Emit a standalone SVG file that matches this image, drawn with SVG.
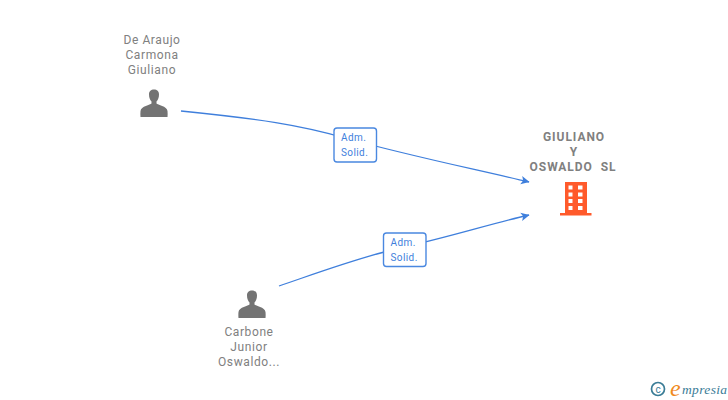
<svg xmlns="http://www.w3.org/2000/svg" width="728" height="400" viewBox="0 0 728 400">
<style>
text{font-family:Roboto,"Liberation Sans",Arial,sans-serif}
.n{font-size:12px;fill:#808080;text-anchor:middle;letter-spacing:.6px}
.b{font-size:12px;font-weight:bold;fill:#808080;text-anchor:middle;letter-spacing:.95px}
.l{font-size:10px;fill:#3f7fdc;letter-spacing:.4px}
.c{fill:none;stroke:#3f7fdc;stroke-width:1.3}
.box{fill:#fff;stroke:#4a88e0;stroke-width:1.4}
.p{fill:#737373}
</style>
<defs>
<marker id="a" markerWidth="10" markerHeight="10" refX="8" refY="5" orient="auto" markerUnits="userSpaceOnUse"><path d="M0,0.8L8.5,5L0,9.2L2,5Z" fill="#3f7fdc"/></marker>
<path id="u" d="M-5,-13.5C-5,-17 -3,-18.5 0,-18.5C3,-18.5 5,-17 5,-13.5C5,-10.500 4,-8 2.500,-6.500L2.500,-4.500C3.500,-3 13,-2 13.500,3C13.700,5 13.700,7 13.500,9L-13.500,9C-13.700,7 -13.700,5 -13.500,3C-13,-2 -3.500,-3 -2.500,-4.500L-2.500,-6.500C-4,-8 -5,-10.500 -5,-13.500Z"/>
</defs>
<g id="connectors">
<path class="c" d="M181,111C260,119 300,125 345,138C410,156 470,168 529,182" marker-end="url(#a)"/>
<path class="c" d="M279,286C320,272 360,257 400,248C450,237 490,224 529,215" marker-end="url(#a)"/>
</g>
<g id="edge-label-1"><rect class="box" x="334" y="128" width="42.500" height="34" rx="3"/><text class="l" x="341" y="141">Adm.</text><text class="l" x="341" y="156">Solid.</text></g>
<g id="edge-label-2"><rect class="box" x="383.500" y="233" width="42.500" height="33.500" rx="3"/><text class="l" x="390.500" y="246">Adm.</text><text class="l" x="390.500" y="261">Solid.</text></g>
<g id="node-dearaujo"><text class="n" x="152" y="44">De Araujo</text><text class="n" x="152" y="59">Carmona</text><text class="n" x="152" y="74">Giuliano</text><use href="#u" class="p" x="154" y="108"/></g>
<g id="node-carbone"><text class="n" x="249" y="336">Carbone</text><text class="n" x="249" y="351">Junior</text><text class="n" x="249" y="366">Oswaldo...</text><use href="#u" class="p" x="252" y="309"/></g>
<g id="node-giuliano"><text class="b" x="574" y="141">GIULIANO</text><text class="b" x="574" y="156">Y</text><text class="b" x="573" y="171" xml:space="preserve">OSWALDO  SL</text>
<path fill="#ff5a2b" fill-rule="evenodd" d="M565,182H587V213H591.500V215.500H560V213H565ZM568.500,185.500V189.500H572.500V185.500ZM578,185.500V189.500H582.500V185.500ZM568.500,192.500V196.500H572.500V192.500ZM578,192.500V196.500H582.500V192.500ZM568.500,199V203H572.500V199ZM578,199V203H582.500V199ZM568.500,206V210H572.500V206ZM578,206V210H582.500V206Z"/></g>
<g id="logo"><circle cx="658" cy="389" r="6.500" fill="none" stroke="#3a7c96" stroke-width="1.700"/><text x="658" y="392.500" font-size="10" fill="#3a7c96" text-anchor="middle">c</text>
<text x="670" y="396" font-size="24" font-style="italic" fill="#f08a1d" style="font-family:'Liberation Serif',serif">e</text><text x="682" y="394" font-size="13.500" font-style="italic" fill="#3a7c96" letter-spacing=".35" style="font-family:'Liberation Serif',serif">mpresia</text></g>
</svg>
